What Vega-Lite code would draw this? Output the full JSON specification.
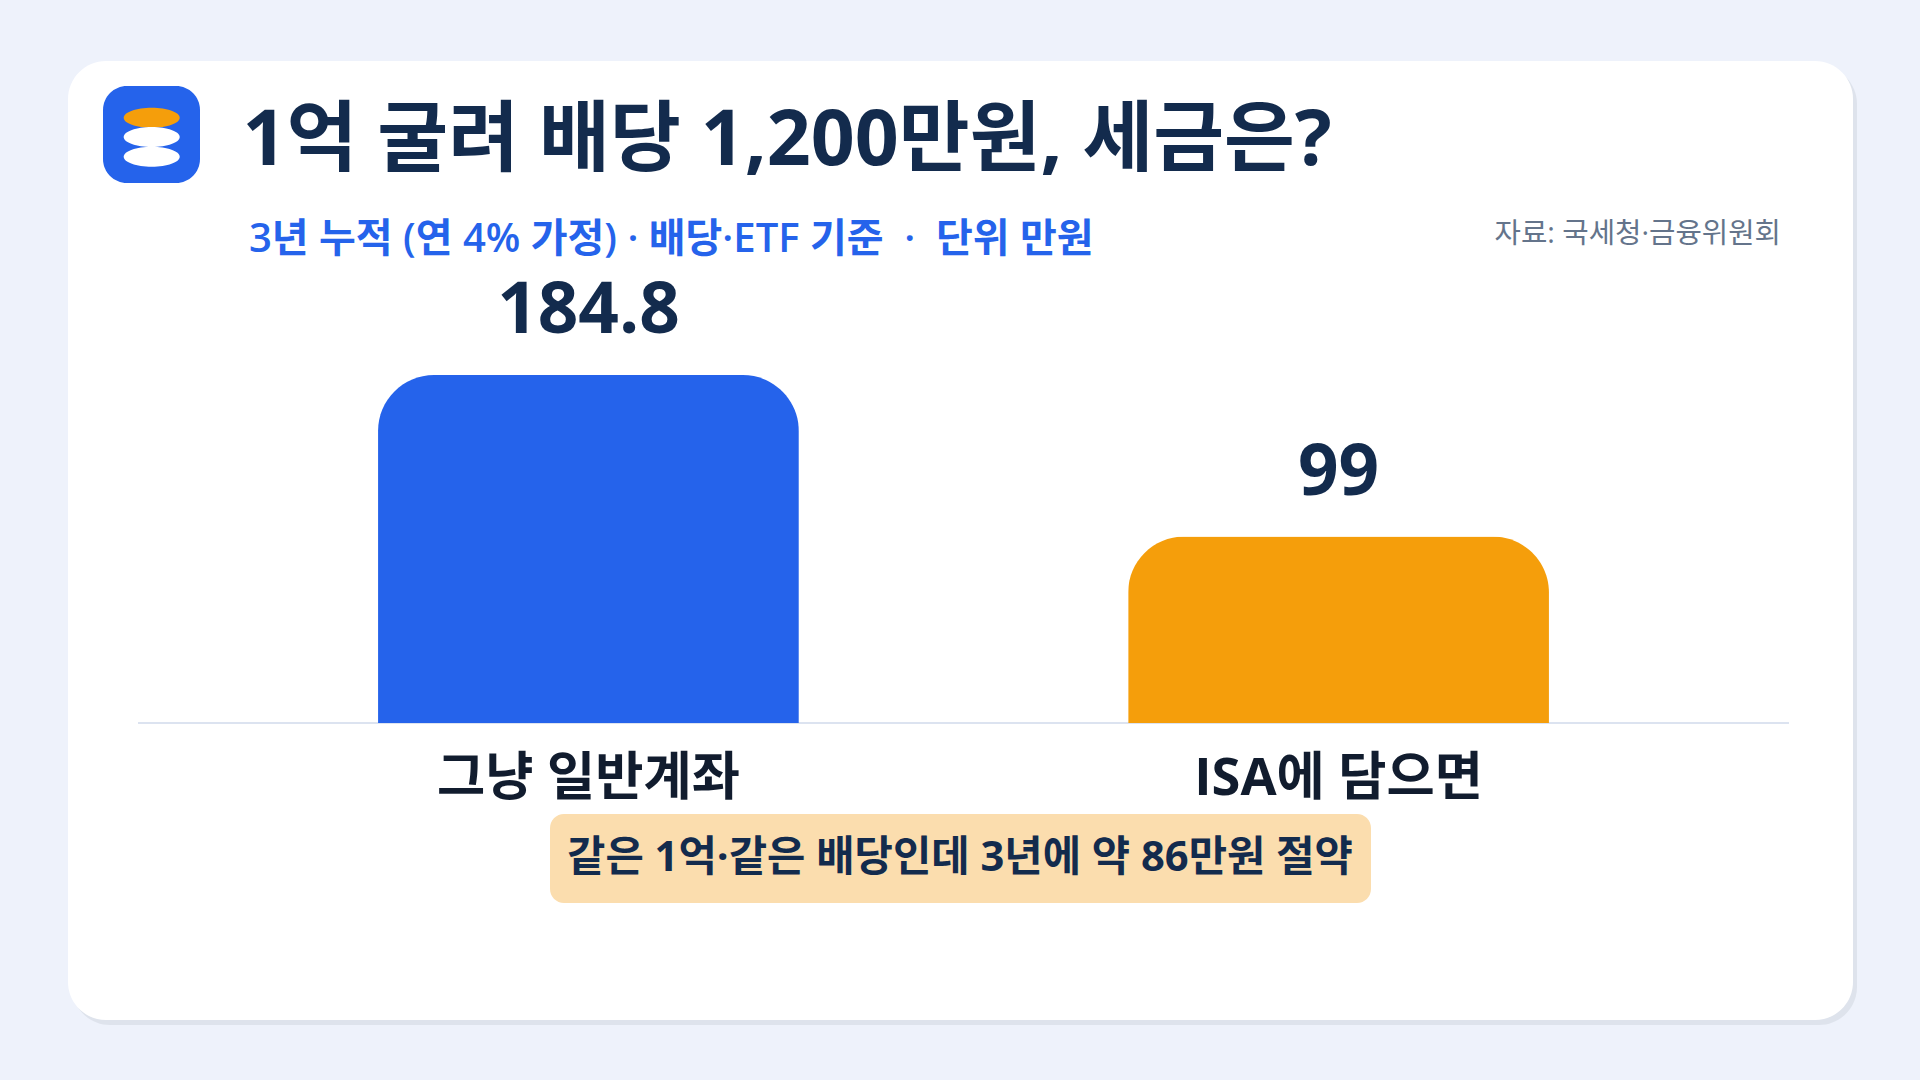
{"$schema":"https://vega.github.io/schema/vega-lite/v6.json","width":1651,"height":463,"autosize":{"type":"none"},"padding":{"left":138,"top":260,"right":131,"bottom":357},"background":"#EEF2FB","config":{"view":{"stroke":null},"font":"Open Sans, Noto Sans CJK KR"},"title":{"text":"1억 굴려 배당 1,200만원, 세금은?","anchor":"start","frame":"group","dx":104.5,"offset":-120,"font":"Open Sans, Noto Sans CJK KR","fontSize":77,"fontWeight":700,"color":"#132B4D"},"data":{"values":[{"account":"그냥 일반계좌","tax":184.8,"label":"184.8"},{"account":"ISA에 담으면","tax":99,"label":"99"}]},"layer":[{"data":{"values":[{}]},"mark":{"type":"rect","color":"#DEE3EC","cornerRadius":38},"encoding":{"x":{"value":-66},"x2":{"value":1719},"y":{"value":-194},"y2":{"value":765}}},{"data":{"values":[{}]},"mark":{"type":"rect","color":"#FFFFFF","cornerRadius":38},"encoding":{"x":{"value":-70},"x2":{"value":1715},"y":{"value":-199},"y2":{"value":760}}},{"data":{"values":[{}]},"mark":{"type":"rect","color":"#2563EB","cornerRadius":24},"encoding":{"x":{"value":-35},"x2":{"value":62},"y":{"value":-174},"y2":{"value":-77}}},{"data":{"values":[{"c":"#F59E0B","p":-142.3},{"c":"#FFFFFF","p":-123},{"c":"#FFFFFF","p":-103.3}]},"mark":{"type":"point","filled":true,"opacity":1,"shape":"M-1,0A1,0.357,0,1,1,1,0A1,0.357,0,1,1,-1,0Z","size":3136},"encoding":{"x":{"value":13.7},"y":{"field":"p","type":"quantitative","scale":null},"color":{"field":"c","type":"nominal","scale":null}}},{"data":{"values":[{}]},"mark":{"type":"rule","color":"#DCE3F0","strokeWidth":2},"encoding":{"x":{"value":0},"x2":{"value":1651},"y":{"value":463}}},{"mark":{"type":"bar","cornerRadiusTopLeft":56,"cornerRadiusTopRight":56},"encoding":{"x":{"field":"account","type":"nominal","sort":null,"scale":{"paddingInner":0.439,"paddingOuter":0.32},"axis":{"title":null,"domain":false,"ticks":false,"labelAngle":0,"labelFontSize":52.4,"labelFontWeight":700,"labelColor":"#111C2E","labelPadding":30,"labelLimit":800,"labelFont":"Open Sans, Noto Sans CJK KR","zindex":1}},"y":{"field":"tax","type":"quantitative","scale":{"domain":[0,245.9],"nice":false},"axis":null},"color":{"field":"account","type":"nominal","sort":null,"scale":{"range":["#2563EB","#F59E0B"]},"legend":null}}},{"mark":{"type":"text","baseline":"alphabetic","dy":-42,"fontSize":71,"fontWeight":700,"color":"#132B4D"},"encoding":{"x":{"field":"account","type":"nominal","sort":null},"y":{"field":"tax","type":"quantitative"},"text":{"field":"label"}}},{"data":{"values":[{}]},"mark":{"type":"text","align":"left","baseline":"alphabetic","fontSize":40,"fontWeight":600,"color":"#2563EB","text":"3년 누적 (연 4% 가정) · 배당·ETF 기준\u00a0\u00a0·\u00a0\u00a0단위 만원"},"encoding":{"x":{"value":111},"y":{"value":-8}}},{"data":{"values":[{}]},"mark":{"type":"text","align":"right","baseline":"alphabetic","fontSize":28.7,"fontWeight":400,"color":"#64748B","text":"자료: 국세청·금융위원회"},"encoding":{"x":{"value":1643},"y":{"value":-17}}},{"data":{"values":[{}]},"mark":{"type":"rect","color":"#FBDDAE","cornerRadius":14},"encoding":{"x":{"value":412},"x2":{"value":1233},"y":{"value":554},"y2":{"value":643}}},{"data":{"values":[{}]},"mark":{"type":"text","align":"center","baseline":"middle","fontSize":41.7,"fontWeight":700,"color":"#132B4D","text":"같은 1억·같은 배당인데 3년에 약 86만원 절약"},"encoding":{"x":{"value":822},"y":{"value":598}}}]}
